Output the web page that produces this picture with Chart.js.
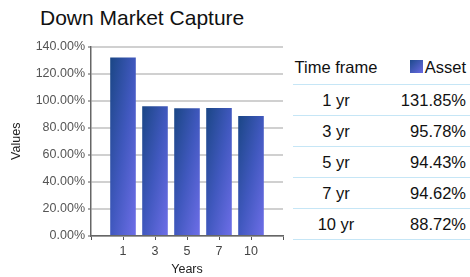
<!DOCTYPE html>
<html>
<head>
  <title>Down Market Capture</title>
  <script src="https://cdn.jsdelivr.net/npm/chart.js"></script>
  <style>
    body {
      margin: 0;
      width: 470px;
      height: 277px;
      background: #fff;
      font-family: 'Liberation Sans', Arial, sans-serif;
      position: relative;
      overflow: hidden;
    }
    #title {
      position: absolute;
      left: 40px;
      top: 6px;
      font-size: 21px;
      color: #111;
    }
    #chartBox {
      position: absolute;
      left: 0;
      top: 36px;
      width: 292px;
      height: 241px;
    }
    table {
      position: absolute;
      left: 293px;
      top: 50px;
      width: 177px;
      border-collapse: collapse;
      font-size: 16.5px;
      color: #111;
    }
    th, td {
      border-bottom: 1.5px solid #c6e6f6;
      height: 30px;
      padding: 0;
      font-weight: normal;
    }
    th { height: 34px; }
    .c1 { text-align: center; width: 86px; }
    .c2 { text-align: right; padding-right: 4px; }
    .swatch {
      display: inline-block;
      width: 13px;
      height: 13px;
      margin-right: 2px;
      vertical-align: 0px;
      background: linear-gradient(135deg, #1e4a8c, #6a6ae4);
    }
  </style>
</head>
<body>
  <div id="title">Down Market Capture</div>
  <div id="chartBox"><canvas id="myChart"></canvas></div>
  <table>
    <thead>
      <tr><th class="c1">Time frame</th><th class="c2"><span class="swatch"></span>Asset</th></tr>
    </thead>
    <tbody id="rows"></tbody>
  </table>

  <script>
    const years = ['1', '3', '5', '7', '10'];
    const capture = [131.85, 95.78, 94.43, 94.62, 88.72];
    const yMax = 140;
    const yStep = 20;

    // table rows
    const rows = document.getElementById('rows');
    years.forEach((y, i) => {
      const tr = document.createElement('tr');
      tr.innerHTML = `<td class="c1">${y} yr</td><td class="c2">${capture[i].toFixed(2)}%</td>`;
      rows.appendChild(tr);
    });

    // diagonal gradient stretched over each bar's box
    function barFill(ctx) {
      const chart = ctx.chart;
      const xs = chart.scales.x, ys = chart.scales.y;
      if (!xs || !ys || ctx.type !== 'data') return '#3a58bb';
      const i = ctx.dataIndex;
      const cx = xs.getPixelForValue(i + 1);
      const w = (xs.getPixelForValue(1) - xs.getPixelForValue(0)) * 0.8;
      const x0 = cx - w / 2;
      const top = ys.getPixelForValue(capture[i]);
      const h = ys.getPixelForValue(0) - top;
      if (!isFinite(w) || !isFinite(h) || w <= 0 || h <= 0) return '#3a58bb';
      const a = 1 / (2 * w), b = 1 / (2 * h);
      const n = a * a + b * b;
      const g = chart.ctx.createLinearGradient(x0, top, x0 + a / n, top + b / n);
      g.addColorStop(0, '#1a4685');
      g.addColorStop(0.5, '#4058be');
      g.addColorStop(1, '#6e6ee8');
      return g;
    }

    new Chart(document.getElementById('myChart'), {
      type: 'bar',
      data: {
        datasets: [{
          label: 'Asset',
          data: capture.map((v, i) => ({ x: i + 1, y: v })),
          backgroundColor: barFill,
          borderWidth: 0,
          barPercentage: 0.8,
          categoryPercentage: 1
        }]
      },
      options: {
        responsive: true,
        maintainAspectRatio: false,
        animation: false,
        layout: { padding: { top: 9, right: 9, left: 0, bottom: 0 } },
        plugins: { legend: { display: false }, tooltip: { enabled: false } },
        scales: {
          x: {
            type: 'linear',
            offset: false,
            min: 0,
            max: years.length + 1,
            afterFit: s => { s.height = 41; },
            ticks: {
              stepSize: 1,
              autoSkip: false,
              color: '#444',
              font: { family: 'Liberation Sans', size: 12.5 },
              padding: 4,
              callback: v => years[v - 1] || ''
            },
            grid: { drawOnChartArea: false, tickLength: 4, color: '#555', tickWidth: 1, offset: false },
            border: { color: '#666', width: 1.5 },
            title: { display: true, text: 'Years', color: '#222', font: { family: 'Liberation Sans', size: 12.5 }, padding: { top: 1, bottom: 0 } }
          },
          y: {
            min: 0,
            max: yMax,
            afterFit: s => { s.width = 91; },
            ticks: {
              stepSize: yStep,
              color: '#555',
              font: { family: 'Liberation Sans', size: 12.5 },
              padding: 3,
              callback: v => v.toFixed(2) + '%'
            },
            grid: { color: '#d0d0d0', lineWidth: 2, tickLength: 3, tickColor: '#555', tickWidth: 1 },
            border: { color: '#666', width: 1.5 },
            title: { display: true, text: 'Values', color: '#222', font: { family: 'Liberation Sans', size: 12.5 }, padding: { top: 9, bottom: 0 } }
          }
        }
      }
    });
  </script>
</body>
</html>
